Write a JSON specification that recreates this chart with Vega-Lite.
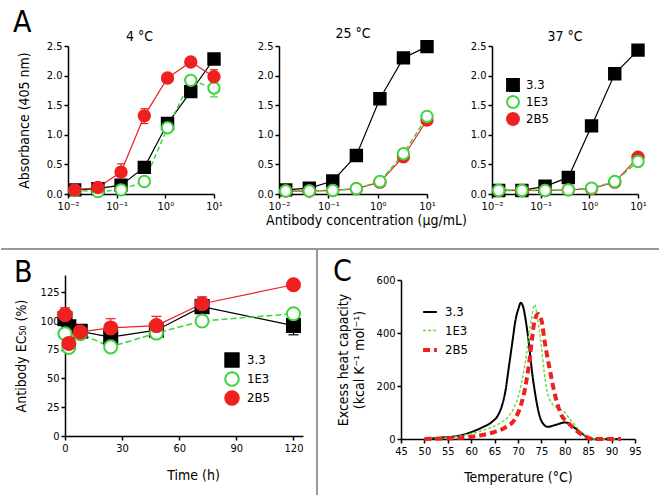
{
  "$schema": "https://vega.github.io/schema/vega-lite/v6.json",
  "padding": {"left": 0, "top": 7, "right": 0, "bottom": 0},
  "background": "white",
  "config": {
    "font": "DejaVu Sans Condensed, DejaVu Sans",
    "view": {"stroke": null},
    "axis": {"grid": false, "domainColor": "black", "domainWidth": 1.5, "tickColor": "black", "tickWidth": 1.5, "tickSize": 4, "labelColor": "black", "labelFontSize": 11, "labelFont": "DejaVu Sans Condensed, DejaVu Sans", "titleFont": "DejaVu Sans Condensed, DejaVu Sans", "titleColor": "black", "titleFontSize": 14, "titleFontWeight": "normal", "labelFlush": false, "labelPadding": 2},
    "legend": {"labelFontSize": 13, "labelColor": "black", "labelFont": "DejaVu Sans Condensed, DejaVu Sans"},
    "title": {"fontWeight": "normal", "color": "black", "font": "DejaVu Sans Condensed, DejaVu Sans", "fontSize": 14}
  },
  "datasets": {
    "elisa": [
      {"p": "4", "s": "3.3", "c": 0.0137, "v": 0.07},
      {"p": "4", "s": "3.3", "c": 0.0412, "v": 0.09},
      {"p": "4", "s": "3.3", "c": 0.123, "v": 0.15},
      {"p": "4", "s": "3.3", "c": 0.37, "v": 0.45},
      {"p": "4", "s": "3.3", "c": 1.11, "v": 1.19},
      {"p": "4", "s": "3.3", "c": 3.33, "v": 1.73},
      {"p": "4", "s": "3.3", "c": 10, "v": 2.28},
      {"p": "4", "s": "1E3", "c": 0.0137, "v": 0.06},
      {"p": "4", "s": "1E3", "c": 0.0412, "v": 0.04},
      {"p": "4", "s": "1E3", "c": 0.123, "v": 0.07},
      {"p": "4", "s": "1E3", "c": 0.37, "v": 0.21},
      {"p": "4", "s": "1E3", "c": 1.11, "v": 1.12},
      {"p": "4", "s": "1E3", "c": 3.33, "v": 1.92, "lo": 1.86, "hi": 1.98},
      {"p": "4", "s": "1E3", "c": 10, "v": 1.79, "lo": 1.64, "hi": 1.94},
      {"p": "4", "s": "2B5", "c": 0.0137, "v": 0.07},
      {"p": "4", "s": "2B5", "c": 0.0412, "v": 0.11},
      {"p": "4", "s": "2B5", "c": 0.123, "v": 0.37, "lo": 0.24, "hi": 0.51},
      {"p": "4", "s": "2B5", "c": 0.37, "v": 1.32, "lo": 1.19, "hi": 1.44},
      {"p": "4", "s": "2B5", "c": 1.11, "v": 1.96},
      {"p": "4", "s": "2B5", "c": 3.33, "v": 2.23},
      {"p": "4", "s": "2B5", "c": 10, "v": 1.98, "lo": 1.85, "hi": 2.1},
      {"p": "25", "s": "3.3", "c": 0.0137, "v": 0.07},
      {"p": "25", "s": "3.3", "c": 0.0412, "v": 0.1},
      {"p": "25", "s": "3.3", "c": 0.123, "v": 0.22},
      {"p": "25", "s": "3.3", "c": 0.37, "v": 0.65},
      {"p": "25", "s": "3.3", "c": 1.11, "v": 1.61},
      {"p": "25", "s": "3.3", "c": 3.33, "v": 2.3},
      {"p": "25", "s": "3.3", "c": 10, "v": 2.49},
      {"p": "25", "s": "2B5", "c": 0.0137, "v": 0.05},
      {"p": "25", "s": "2B5", "c": 0.0412, "v": 0.05},
      {"p": "25", "s": "2B5", "c": 0.123, "v": 0.06},
      {"p": "25", "s": "2B5", "c": 0.37, "v": 0.09},
      {"p": "25", "s": "2B5", "c": 1.11, "v": 0.2},
      {"p": "25", "s": "2B5", "c": 3.33, "v": 0.63},
      {"p": "25", "s": "2B5", "c": 10, "v": 1.25},
      {"p": "25", "s": "1E3", "c": 0.0137, "v": 0.05},
      {"p": "25", "s": "1E3", "c": 0.0412, "v": 0.05},
      {"p": "25", "s": "1E3", "c": 0.123, "v": 0.06},
      {"p": "25", "s": "1E3", "c": 0.37, "v": 0.09},
      {"p": "25", "s": "1E3", "c": 1.11, "v": 0.21},
      {"p": "25", "s": "1E3", "c": 3.33, "v": 0.68},
      {"p": "25", "s": "1E3", "c": 10, "v": 1.31},
      {"p": "37", "s": "3.3", "c": 0.0137, "v": 0.06},
      {"p": "37", "s": "3.3", "c": 0.0412, "v": 0.06},
      {"p": "37", "s": "3.3", "c": 0.123, "v": 0.13},
      {"p": "37", "s": "3.3", "c": 0.37, "v": 0.28},
      {"p": "37", "s": "3.3", "c": 1.11, "v": 1.15},
      {"p": "37", "s": "3.3", "c": 3.33, "v": 2.03},
      {"p": "37", "s": "3.3", "c": 10, "v": 2.43},
      {"p": "37", "s": "2B5", "c": 0.0137, "v": 0.06},
      {"p": "37", "s": "2B5", "c": 0.0412, "v": 0.06},
      {"p": "37", "s": "2B5", "c": 0.123, "v": 0.06},
      {"p": "37", "s": "2B5", "c": 0.37, "v": 0.07},
      {"p": "37", "s": "2B5", "c": 1.11, "v": 0.09},
      {"p": "37", "s": "2B5", "c": 3.33, "v": 0.2},
      {"p": "37", "s": "2B5", "c": 10, "v": 0.62},
      {"p": "37", "s": "1E3", "c": 0.0137, "v": 0.06},
      {"p": "37", "s": "1E3", "c": 0.0412, "v": 0.06},
      {"p": "37", "s": "1E3", "c": 0.123, "v": 0.06},
      {"p": "37", "s": "1E3", "c": 0.37, "v": 0.07},
      {"p": "37", "s": "1E3", "c": 1.11, "v": 0.1},
      {"p": "37", "s": "1E3", "c": 3.33, "v": 0.21},
      {"p": "37", "s": "1E3", "c": 10, "v": 0.55}
    ],
    "ec50": [
      {"s": "3.3", "t": 0, "v": 102},
      {"s": "3.3", "t": 2, "v": 95},
      {"s": "3.3", "t": 8, "v": 91},
      {"s": "3.3", "t": 24, "v": 86},
      {"s": "3.3", "t": 48, "v": 92},
      {"s": "3.3", "t": 72, "v": 112.5},
      {"s": "3.3", "t": 120, "v": 96, "lo": 88, "hi": 104},
      {"s": "1E3", "t": 0, "v": 89},
      {"s": "1E3", "t": 2, "v": 77, "lo": 73, "hi": 81},
      {"s": "1E3", "t": 8, "v": 89},
      {"s": "1E3", "t": 24, "v": 77.5},
      {"s": "1E3", "t": 48, "v": 89.5},
      {"s": "1E3", "t": 72, "v": 100},
      {"s": "1E3", "t": 120, "v": 106.3},
      {"s": "2B5", "t": 0, "v": 105.5, "lo": 100, "hi": 111.5},
      {"s": "2B5", "t": 2, "v": 80.5},
      {"s": "2B5", "t": 8, "v": 90.5},
      {"s": "2B5", "t": 24, "v": 94, "lo": 86, "hi": 102},
      {"s": "2B5", "t": 48, "v": 96, "lo": 88, "hi": 104},
      {"s": "2B5", "t": 72, "v": 115, "lo": 109, "hi": 121},
      {"s": "2B5", "t": 120, "v": 131.5}
    ],
    "dsc": [
      {"s": "3.3", "t": 50, "v": 0}, {"s": "3.3", "t": 53.5, "v": 5}, {"s": "3.3", "t": 57.8, "v": 14}, {"s": "3.3", "t": 60, "v": 26},
      {"s": "3.3", "t": 62.5, "v": 45}, {"s": "3.3", "t": 64.4, "v": 64}, {"s": "3.3", "t": 65.7, "v": 89}, {"s": "3.3", "t": 66.6, "v": 127},
      {"s": "3.3", "t": 67.4, "v": 190}, {"s": "3.3", "t": 67.9, "v": 253}, {"s": "3.3", "t": 68.4, "v": 316}, {"s": "3.3", "t": 68.9, "v": 379},
      {"s": "3.3", "t": 69.4, "v": 442}, {"s": "3.3", "t": 70.1, "v": 492}, {"s": "3.3", "t": 70.6, "v": 514}, {"s": "3.3", "t": 71.2, "v": 492},
      {"s": "3.3", "t": 71.7, "v": 442}, {"s": "3.3", "t": 72.2, "v": 379}, {"s": "3.3", "t": 72.6, "v": 316}, {"s": "3.3", "t": 73.0, "v": 253},
      {"s": "3.3", "t": 73.5, "v": 190}, {"s": "3.3", "t": 74.1, "v": 127}, {"s": "3.3", "t": 74.8, "v": 77}, {"s": "3.3", "t": 75.5, "v": 55},
      {"s": "3.3", "t": 76.3, "v": 46}, {"s": "3.3", "t": 77.8, "v": 52}, {"s": "3.3", "t": 79.9, "v": 62}, {"s": "3.3", "t": 80.6, "v": 61},
      {"s": "3.3", "t": 81.3, "v": 52}, {"s": "3.3", "t": 82.8, "v": 33}, {"s": "3.3", "t": 84.2, "v": 14}, {"s": "3.3", "t": 85.2, "v": 5},
      {"s": "3.3", "t": 86.5, "v": 0}, {"s": "3.3", "t": 92, "v": 0},
      {"s": "1E3", "t": 50, "v": 0}, {"s": "1E3", "t": 55.7, "v": 7.5}, {"s": "1E3", "t": 60, "v": 20}, {"s": "1E3", "t": 63.5, "v": 39},
      {"s": "1E3", "t": 66, "v": 58}, {"s": "1E3", "t": 68.15, "v": 89}, {"s": "1E3", "t": 69.4, "v": 127}, {"s": "1E3", "t": 70.5, "v": 190},
      {"s": "1E3", "t": 71.2, "v": 253}, {"s": "1E3", "t": 71.8, "v": 316}, {"s": "1E3", "t": 72.2, "v": 379}, {"s": "1E3", "t": 72.8, "v": 442},
      {"s": "1E3", "t": 73.5, "v": 507}, {"s": "1E3", "t": 74.3, "v": 442}, {"s": "1E3", "t": 74.8, "v": 379}, {"s": "1E3", "t": 75.2, "v": 316},
      {"s": "1E3", "t": 75.6, "v": 253}, {"s": "1E3", "t": 76.1, "v": 190}, {"s": "1E3", "t": 76.7, "v": 152}, {"s": "1E3", "t": 77.6, "v": 127},
      {"s": "1E3", "t": 78.8, "v": 114}, {"s": "1E3", "t": 79.9, "v": 102}, {"s": "1E3", "t": 81, "v": 77}, {"s": "1E3", "t": 82.2, "v": 52},
      {"s": "1E3", "t": 83.5, "v": 26}, {"s": "1E3", "t": 85.2, "v": 7.5}, {"s": "1E3", "t": 86.5, "v": 0}, {"s": "1E3", "t": 92, "v": 0},
      {"s": "2B5", "t": 50, "v": 0}, {"s": "2B5", "t": 57.8, "v": 5}, {"s": "2B5", "t": 62.1, "v": 14}, {"s": "2B5", "t": 64.9, "v": 26},
      {"s": "2B5", "t": 67.4, "v": 45}, {"s": "2B5", "t": 69.4, "v": 77}, {"s": "2B5", "t": 70.6, "v": 127}, {"s": "2B5", "t": 71.5, "v": 190},
      {"s": "2B5", "t": 72.1, "v": 253}, {"s": "2B5", "t": 72.6, "v": 316}, {"s": "2B5", "t": 73.0, "v": 379}, {"s": "2B5", "t": 73.5, "v": 442},
      {"s": "2B5", "t": 74.3, "v": 472}, {"s": "2B5", "t": 75.1, "v": 442}, {"s": "2B5", "t": 75.6, "v": 379}, {"s": "2B5", "t": 76.2, "v": 316},
      {"s": "2B5", "t": 76.9, "v": 253}, {"s": "2B5", "t": 77.6, "v": 190}, {"s": "2B5", "t": 78.5, "v": 127}, {"s": "2B5", "t": 79.3, "v": 89},
      {"s": "2B5", "t": 80.6, "v": 64}, {"s": "2B5", "t": 82.0, "v": 39}, {"s": "2B5", "t": 83.3, "v": 20}, {"s": "2B5", "t": 84.9, "v": 5},
      {"s": "2B5", "t": 86, "v": 0}, {"s": "2B5", "t": 92, "v": 0}
    ]
  },
  "bounds": "flush",
  "spacing": 229,
  "resolve": {"scale": {"stroke": "independent", "fill": "independent", "shape": "independent", "strokeDash": "independent", "strokeWidth": "independent"}, "legend": {"stroke": "independent", "fill": "independent", "shape": "independent", "strokeDash": "independent", "strokeWidth": "independent"}},
  "vconcat": [
    {
      "title": {"text": "A", "anchor": "start", "frame": "group", "fontSize": 30, "dx": -52, "dy": 39, "baseline": "alphabetic"},
      "bounds": "flush",
      "spacing": 65,
      "resolve": {"scale": {"stroke": "independent", "fill": "independent", "shape": "independent"}, "legend": {"stroke": "independent", "fill": "independent", "shape": "independent"}},
      "hconcat": [
        {
          "width": 149, "height": 148,
          "title": {"text": "4 °C", "offset": -4},
          "data": {"name": "elisa"},
          "transform": [{"filter": "datum.p == '4'"}],
          "encoding": {
            "x": {"field": "c", "type": "quantitative", "scale": {"type": "log", "domain": [0.01, 10], "range": [3, 149]}, "axis": {"values": [0.01, 0.1, 1, 10], "labelExpr": "datum.value < 0.05 ? '10⁻²' : datum.value < 0.5 ? '10⁻¹' : datum.value < 5 ? '10⁰' : '10¹'", "title": null}},
            "y": {"field": "v", "type": "quantitative", "scale": {"domain": [0, 2.5]}, "axis": {"values": [0, 0.5, 1, 1.5, 2, 2.5], "format": ".1f", "title": "Absorbance (405 nm)", "titlePadding": 15, "offset": -3}},
            "stroke": {"field": "s", "type": "nominal", "scale": {"domain": ["3.3", "1E3", "2B5"], "range": ["#000000", "#3fd43f", "#ee2020"]}, "legend": null}
          },
          "layer": [
            {"transform": [{"filter": "datum.s != '1E3'"}], "mark": {"type": "line", "strokeWidth": 1.2}},
            {"transform": [{"filter": "datum.s == '1E3'"}], "mark": {"type": "line", "strokeWidth": 1.5, "strokeDash": [5, 3]}},
            {"transform": [{"filter": "datum.hi != null"}], "mark": {"type": "rule", "strokeWidth": 1.2}, "encoding": {"y": {"field": "lo", "type": "quantitative"}, "y2": {"field": "hi"}}},
            {"transform": [{"filter": "datum.hi != null"}], "mark": {"type": "rule", "strokeWidth": 1.2, "xOffset": -4, "x2Offset": 4}, "encoding": {"y": {"field": "hi", "type": "quantitative"}, "x2": {"field": "c"}}},
            {"transform": [{"filter": "datum.hi != null"}], "mark": {"type": "rule", "strokeWidth": 1.2, "xOffset": -4, "x2Offset": 4}, "encoding": {"y": {"field": "lo", "type": "quantitative"}, "x2": {"field": "c"}}},
            {"mark": {"type": "point", "size": 130, "strokeWidth": 2, "opacity": 1}, "encoding": {
              "shape": {"field": "s", "type": "nominal", "scale": {"domain": ["3.3", "1E3", "2B5"], "range": ["square", "circle", "circle"]}, "legend": null},
              "fill": {"field": "s", "type": "nominal", "scale": {"domain": ["3.3", "1E3", "2B5"], "range": ["#000000", "#ffffff", "#ee2020"]}, "legend": null}
            }}
          ]
        },
        {
          "width": 148, "height": 148,
          "title": {"text": "25 °C", "offset": -4},
          "data": {"name": "elisa"},
          "transform": [{"filter": "datum.p == '25'"}],
          "encoding": {
            "x": {"field": "c", "type": "quantitative", "scale": {"type": "log", "domain": [0.01, 10]}, "axis": {"values": [0.01, 0.1, 1, 10], "labelExpr": "datum.value < 0.05 ? '10⁻²' : datum.value < 0.5 ? '10⁻¹' : datum.value < 5 ? '10⁰' : '10¹'", "title": "Antibody concentration (μg/mL)", "titlePadding": 2, "titleX": 87}},
            "y": {"field": "v", "type": "quantitative", "scale": {"domain": [0, 2.5]}, "axis": {"values": [0, 0.5, 1, 1.5, 2, 2.5], "format": ".1f", "title": null}},
            "stroke": {"field": "s", "type": "nominal", "scale": {"domain": ["3.3", "1E3", "2B5"], "range": ["#000000", "#3fd43f", "#ee2020"]}, "legend": null}
          },
          "layer": [
            {"transform": [{"filter": "datum.s != '1E3'"}], "mark": {"type": "line", "strokeWidth": 1.2}},
            {"transform": [{"filter": "datum.s == '1E3'"}], "mark": {"type": "line", "strokeWidth": 1.5, "strokeDash": [5, 3]}},
            {"mark": {"type": "point", "size": 130, "strokeWidth": 2, "opacity": 1}, "encoding": {
              "shape": {"field": "s", "type": "nominal", "scale": {"domain": ["3.3", "1E3", "2B5"], "range": ["square", "circle", "circle"]}, "legend": null},
              "fill": {"field": "s", "type": "nominal", "scale": {"domain": ["3.3", "1E3", "2B5"], "range": ["#000000", "#ffffff", "#ee2020"]}, "legend": null}
            }}
          ]
        },
        {
          "width": 146, "height": 148,
          "title": {"text": "37 °C", "offset": -4},
          "data": {"name": "elisa"},
          "transform": [{"filter": "datum.p == '37'"}],
          "encoding": {
            "x": {"field": "c", "type": "quantitative", "scale": {"type": "log", "domain": [0.01, 10]}, "axis": {"values": [0.01, 0.1, 1, 10], "labelExpr": "datum.value < 0.05 ? '10⁻²' : datum.value < 0.5 ? '10⁻¹' : datum.value < 5 ? '10⁰' : '10¹'", "title": null}},
            "y": {"field": "v", "type": "quantitative", "scale": {"domain": [0, 2.5]}, "axis": {"values": [0, 0.5, 1, 1.5, 2, 2.5], "format": ".1f", "title": null}},
            "stroke": {"field": "s", "type": "nominal", "scale": {"domain": ["3.3", "1E3", "2B5"], "range": ["#000000", "#3fd43f", "#ee2020"]}, "legend": {"orient": "none", "legendX": 14, "legendY": 32, "title": null, "symbolSize": 140, "symbolStrokeWidth": 2, "symbolDash": [1, 0], "rowPadding": -3, "labelOffset": 6}}
          },
          "layer": [
            {"transform": [{"filter": "datum.s != '1E3'"}], "mark": {"type": "line", "strokeWidth": 1.2}},
            {"transform": [{"filter": "datum.s == '1E3'"}], "mark": {"type": "line", "strokeWidth": 1.5, "strokeDash": [5, 3]}},
            {"mark": {"type": "point", "size": 130, "strokeWidth": 2, "opacity": 1}, "encoding": {
              "shape": {"field": "s", "type": "nominal", "scale": {"domain": ["3.3", "1E3", "2B5"], "range": ["square", "circle", "circle"]}, "legend": {"orient": "none", "legendX": 14, "legendY": 32, "title": null, "symbolSize": 140, "symbolStrokeWidth": 2, "symbolDash": [1, 0], "rowPadding": -3, "labelOffset": 6}},
              "fill": {"field": "s", "type": "nominal", "scale": {"domain": ["3.3", "1E3", "2B5"], "range": ["#000000", "#ffffff", "#ee2020"]}, "legend": {"orient": "none", "legendX": 14, "legendY": 32, "title": null, "symbolSize": 140, "symbolStrokeWidth": 2, "symbolDash": [1, 0], "rowPadding": -3, "labelOffset": 6}}
            }}
          ]
        }
      ]
    },
    {
      "bounds": "flush",
      "spacing": 98,
      "resolve": {"scale": {"stroke": "independent", "fill": "independent", "shape": "independent", "strokeDash": "independent", "strokeWidth": "independent"}, "legend": {"stroke": "independent", "fill": "independent", "shape": "independent", "strokeDash": "independent", "strokeWidth": "independent"}},
      "hconcat": [
        {
          "width": 238, "height": 161,
          "title": {"text": "B", "anchor": "start", "frame": "group", "fontSize": 30, "dx": -51, "dy": 52, "offset": -12, "baseline": "alphabetic"},
          "data": {"name": "ec50"},
          "encoding": {
            "x": {"field": "t", "type": "quantitative", "scale": {"domain": [0, 125]}, "axis": {"values": [0, 30, 60, 90, 120], "title": "Time (h)", "titlePadding": 15, "titleX": 128}},
            "y": {"field": "v", "type": "quantitative", "scale": {"domain": [0, 140]}, "axis": {"values": [0, 25, 50, 75, 100, 125], "title": "Antibody EC₅₀ (%)", "titlePadding": 12}},
            "stroke": {"field": "s", "type": "nominal", "scale": {"domain": ["3.3", "1E3", "2B5"], "range": ["#000000", "#3fd43f", "#ee2020"]}, "legend": {"orient": "none", "legendX": 159, "legendY": 77, "title": null, "symbolSize": 180, "symbolStrokeWidth": 2, "symbolDash": [1, 0], "rowPadding": -3, "labelOffset": 7}}
          },
          "layer": [
            {"mark": {"type": "rule", "strokeWidth": 1.5}, "encoding": {"x": {"datum": -33.6}, "x2": {"datum": 312.5}, "y": {"datum": 162.6}, "stroke": {"value": "#999999"}}},
            {"mark": {"type": "rule", "strokeWidth": 1.5}, "encoding": {"x": {"datum": 132.4}, "y": {"datum": 162.6}, "y2": {"datum": -53}, "stroke": {"value": "#999999"}}},
            {"transform": [{"filter": "datum.s != '1E3'"}], "mark": {"type": "line", "strokeWidth": 1.2}},
            {"transform": [{"filter": "datum.s == '1E3'"}], "mark": {"type": "line", "strokeWidth": 1.6, "strokeDash": [6, 3]}},
            {"transform": [{"filter": "datum.hi != null"}], "mark": {"type": "rule", "strokeWidth": 1.2}, "encoding": {"y": {"field": "lo", "type": "quantitative"}, "y2": {"field": "hi"}}},
            {"transform": [{"filter": "datum.hi != null"}], "mark": {"type": "rule", "strokeWidth": 1.2, "xOffset": -5, "x2Offset": 5}, "encoding": {"y": {"field": "hi", "type": "quantitative"}, "x2": {"field": "t"}}},
            {"transform": [{"filter": "datum.hi != null"}], "mark": {"type": "rule", "strokeWidth": 1.2, "xOffset": -5, "x2Offset": 5}, "encoding": {"y": {"field": "lo", "type": "quantitative"}, "x2": {"field": "t"}}},
            {"mark": {"type": "point", "size": 170, "strokeWidth": 2, "opacity": 1}, "encoding": {
              "shape": {"field": "s", "type": "nominal", "scale": {"domain": ["3.3", "1E3", "2B5"], "range": ["square", "circle", "circle"]}, "legend": {"orient": "none", "legendX": 159, "legendY": 77, "title": null, "symbolSize": 180, "symbolStrokeWidth": 2, "symbolDash": [1, 0], "rowPadding": -3, "labelOffset": 7}},
              "fill": {"field": "s", "type": "nominal", "scale": {"domain": ["3.3", "1E3", "2B5"], "range": ["#000000", "#ffffff", "#ee2020"]}, "legend": {"orient": "none", "legendX": 159, "legendY": 77, "title": null, "symbolSize": 180, "symbolStrokeWidth": 2, "symbolDash": [1, 0], "rowPadding": -3, "labelOffset": 7}}
            }}
          ]
        },
        {
          "width": 234, "height": 164,
          "title": {"text": "C", "anchor": "start", "frame": "group", "fontSize": 30, "dx": -68, "dy": 25, "offset": -12, "baseline": "alphabetic"},
          "data": {"name": "dsc"},
          "mark": {"type": "line", "interpolate": "monotone"},
          "encoding": {
            "x": {"field": "t", "type": "quantitative", "scale": {"domain": [45, 95]}, "axis": {"values": [45, 50, 55, 60, 65, 70, 75, 80, 85, 90, 95], "title": "Temperature (°C)", "titlePadding": 14}},
            "y": {"field": "v", "type": "quantitative", "scale": {"domain": [0, 600], "range": [164, 5]}, "axis": {"values": [0, 200, 400, 600], "title": ["Excess heat capacity", "(kcal K⁻¹ mol⁻¹)"], "titlePadding": 10}},
            "stroke": {"field": "s", "type": "nominal", "scale": {"domain": ["3.3", "1E3", "2B5"], "range": ["#000000", "#66e040", "#ee2020"]}, "legend": {"orient": "none", "legendX": 20, "legendY": 29, "title": null, "symbolType": "stroke", "symbolSize": 190, "rowPadding": 3.5, "labelOffset": 6}},
            "strokeDash": {"field": "s", "type": "nominal", "scale": {"domain": ["3.3", "1E3", "2B5"], "range": [[1, 0], [3, 2], [7, 4]]}, "legend": {"orient": "none", "legendX": 20, "legendY": 29, "title": null, "symbolType": "stroke", "symbolSize": 190, "rowPadding": 3.5, "labelOffset": 6}},
            "strokeWidth": {"field": "s", "type": "nominal", "scale": {"type": "ordinal", "domain": ["3.3", "1E3", "2B5"], "range": [2, 1.5, 4]}, "legend": {"orient": "none", "legendX": 20, "legendY": 29, "title": null, "symbolType": "stroke", "symbolSize": 190, "rowPadding": 3.5, "labelOffset": 6}}
          }
        }
      ]
    }
  ]
}
